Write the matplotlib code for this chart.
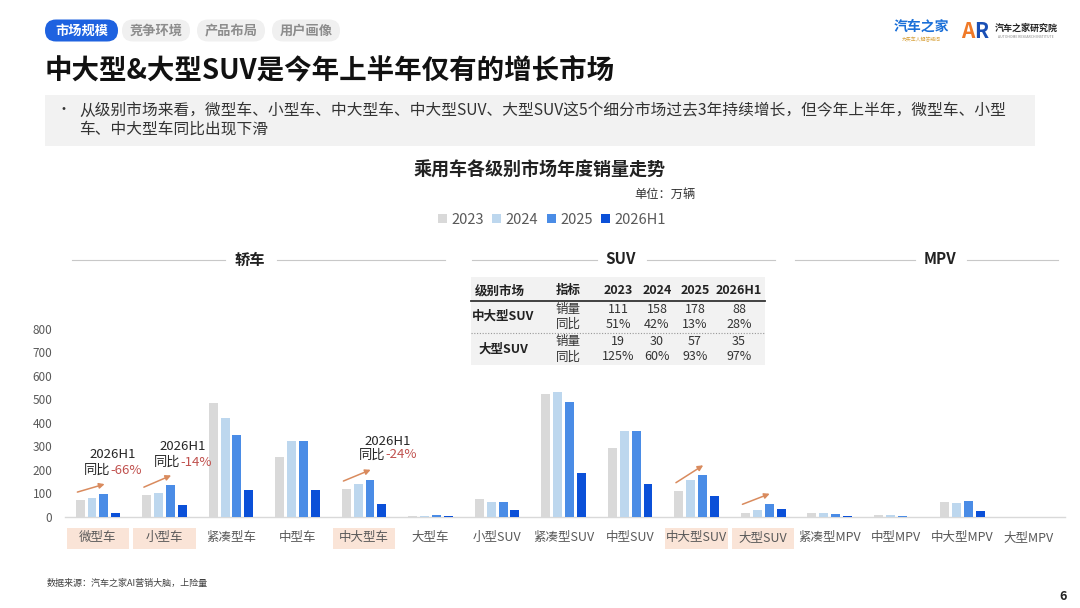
import matplotlib
matplotlib.use('Agg')
import matplotlib.pyplot as plt
from matplotlib.patches import FancyBboxPatch, Rectangle
from matplotlib.transforms import blended_transform_factory
import numpy as np

plt.rcParams['font.family'] = ['Noto Sans CJK SC', 'DejaVu Sans']
plt.rcParams['axes.unicode_minus'] = False

# 数据
categories = ['微型车', '小型车', '紧凑型车', '中型车', '中大型车', '大型车',
              '小型SUV', '紧凑型SUV', '中型SUV', '中大型SUV', '大型SUV',
              '紧凑型MPV', '中型MPV', '中大型MPV', '大型MPV']
years = ['2023', '2024', '2025', '2026H1']
sales_2023 = [71, 92, 484, 257, 118, 6, 77, 525, 295, 111, 19, 16, 8, 64, 1]
sales_2024 = [82, 101, 421, 322, 142, 5, 64, 533, 367, 158, 30, 16, 10, 61, 1]
sales_2025 = [98, 135, 348, 322, 159, 7, 64, 488, 367, 178, 57, 11, 6, 70, 1]
sales_2026h1 = [16, 50, 116, 115, 57, 3, 28, 187, 139, 88, 35, 4, 1, 27, 0]
colors = ['#D9D9D9', '#BDD7EE', '#4A8CE6', '#0B50D8']

highlight = [0, 1, 4, 9, 10]
arrow_cats = [0, 1, 4, 9, 10]
anno_cats = [0, 1, 4]
anno_yoy = ['-66%', '-14%', '-24%']
anno_pos = [(0.22, 264, 200), (0.28, 298, 231), (0.36, 323, 264)]

table_cols = ['级别市场', '指标', '2023', '2024', '2025', '2026H1']
table_groups = ['中大型SUV', '大型SUV']
table_sales = [['111', '158', '178', '88'], ['19', '30', '57', '35']]
table_yoy = [['51%', '42%', '13%', '28%'], ['125%', '60%', '93%', '97%']]

W, H = 1080, 608
fig = plt.figure(figsize=(W / 100, H / 100), dpi=100)

# 背景层，用像素坐标排版
bg = fig.add_axes([0, 0, 1, 1], zorder=0)
bg.set_xlim(0, W)
bg.set_ylim(H, 0)
bg.axis('off')

# 顶部标签页
tabs = [('市场规模', 45, 118, True), ('竞争环境', 122, 190, False),
        ('产品布局', 197, 265, False), ('用户画像', 272, 340, False)]
for name, x0, x1, active in tabs:
    fc = '#1E62E0' if active else '#F0F0F0'
    tc = 'white' if active else '#8C8C8C'
    bg.add_patch(FancyBboxPatch((x0, 19.5), x1 - x0, 22,
                                boxstyle='round,pad=0,rounding_size=11',
                                mutation_aspect=1, fc=fc, ec='none'))
    bg.text((x0 + x1) / 2, 30.5, name, ha='center', va='center', fontsize=9.5,
            color=tc, fontweight='bold')

# logo
bg.text(921, 27, '汽车之家', ha='center', va='center', fontsize=10,
        color='#1A6FD8', fontweight='bold')
bg.text(921, 40, '为买车人解答疑问', ha='center', va='center', fontsize=3.5, color='#D9A441')
bg.text(968, 31, 'A', ha='center', va='center', fontsize=15, color='#F07A28', fontweight='bold')
bg.text(981, 31, 'R', ha='center', va='center', fontsize=15, color='#1A4FB5', fontweight='bold')
bg.text(1026, 28, '汽车之家研究院', ha='center', va='center', fontsize=6.5,
        color='#222222', fontweight='bold')
bg.text(1026, 37, 'AUTOHOME RESEARCH INSTITUTE', ha='center', va='center',
        fontsize=2.5, color='#888888')

# 标题
bg.text(45, 70, '中大型&大型SUV是今年上半年仅有的增长市场', ha='left', va='center',
        fontsize=19.8, fontweight='bold', color='#111111')

# 说明框
bg.add_patch(Rectangle((45, 95), 990, 51, fc='#F2F2F2', ec='none'))
bg.text(57, 110, '•', ha='left', va='center', fontsize=10, color='#333333')
bg.text(79, 110, '从级别市场来看，微型车、小型车、中大型车、中大型SUV、大型SUV这5个细分市场过去3年持续增长，但今年上半年，微型车、小型',
        ha='left', va='center', fontsize=11.3, color='#333333')
bg.text(79, 129, '车、中大型车同比出现下滑', ha='left', va='center', fontsize=11.3, color='#333333')

# 图表标题
bg.text(540, 170, '乘用车各级别市场年度销量走势', ha='center', va='center',
        fontsize=13, fontweight='bold', color='#222222')
bg.text(665, 194, '单位：万辆', ha='center', va='center', fontsize=8.8, color='#333333')

# 分组标题
sections = [('轿车', 250, 72, 225, 277, 445), ('SUV', 621, 472, 597, 647, 775),
            ('MPV', 940, 795, 915, 967, 1058)]
for name, xc, a0, a1, b0, b1 in sections:
    bg.plot([a0, a1], [259.5, 259.5], color='#C8C8C8', lw=0.8)
    bg.plot([b0, b1], [259.5, 259.5], color='#C8C8C8', lw=0.8)
    bg.text(xc, 259.5, name, ha='center', va='center', fontsize=11,
            fontweight='bold', color='#222222')

# 表格
bg.add_patch(Rectangle((471, 277), 294, 88, fc='#F2F2F2', ec='none'))
col_x = [500, 568, 618, 657, 695, 739]
for x, c in zip(col_x, table_cols):
    bg.text(x, 290.5, c, ha='center', va='center', fontsize=9,
            fontweight='bold', color='#222222')
bg.plot([471, 765], [301, 301], color='#333333', lw=1.3)
bg.plot([471, 765], [333, 333], color='#999999', lw=0.8, ls=(0, (1, 1.5)))
row_y = [(309.5, 324.5, 316.5), (341.5, 357, 349)]
for g, (y1, y2, yg) in enumerate(row_y):
    bg.text(503, yg, table_groups[g], ha='center', va='center', fontsize=9,
            fontweight='bold', color='#222222')
    bg.text(568, y1, '销量', ha='center', va='center', fontsize=9, color='#333333')
    bg.text(568, y2, '同比', ha='center', va='center', fontsize=9, color='#333333')
    for k in range(4):
        bg.text(col_x[k + 2], y1, table_sales[g][k], ha='center', va='center',
                fontsize=9, color='#333333')
        bg.text(col_x[k + 2], y2, table_yoy[g][k], ha='center', va='center',
                fontsize=9, color='#333333')

# 底部
bg.text(47, 583, '数据来源：汽车之家AI营销大脑，上险量', ha='left', va='center',
        fontsize=6.5, color='#404040')
bg.text(1063, 597, '6', ha='center', va='center', fontsize=9, fontweight='bold', color='#222222')

# 主图
ax = fig.add_axes([65 / W, 1 - 517 / H, 1000 / W, 188 / H], zorder=2)
ax.patch.set_alpha(0)
x = np.arange(len(categories))
width = 0.135
offsets = [-0.27, -0.09, 0.09, 0.27]
series = [sales_2023, sales_2024, sales_2025, sales_2026h1]
bars = []
for s, off, c, yr in zip(series, offsets, colors, years):
    bars.append(ax.bar(x + off, s, width, color=c, label=yr, zorder=3))

ax.set_xlim(-0.496, 14.54)
ax.set_ylim(0, 800)
ax.set_yticks(range(0, 801, 100))
ax.set_xticks(x)
ax.set_xticklabels(categories, fontsize=9, color='#595959')
ax.tick_params(axis='x', length=0, pad=10)
ax.tick_params(axis='y', length=0, pad=9, labelsize=8.5, labelcolor='#595959')
for sp in ['top', 'right', 'left']:
    ax.spines[sp].set_visible(False)
ax.spines['bottom'].set_color('#D9D9D9')
ax.spines['bottom'].set_linewidth(1)

# 高亮标签背景
tr = blended_transform_factory(ax.transData, bg.transData)
for i in highlight:
    bg.add_patch(Rectangle((i - 0.47, 528), 0.94, 21, transform=tr,
                           fc='#FAE4D7', ec='none', zorder=0))

# 增长箭头
for i in arrow_cats:
    ax.annotate('', xy=(i + 0.1, sales_2025[i] + 42), xytext=(i - 0.31, sales_2023[i] + 35),
                arrowprops=dict(arrowstyle='-|>', color='#D98B5E', lw=1.1,
                                mutation_scale=8, shrinkA=0, shrinkB=0), zorder=4)

# 同比标注
for i, yoy, (dx, y1, y2) in zip(anno_cats, anno_yoy, anno_pos):
    ax.text(i + dx, y1, '2026H1', ha='center', va='center', fontsize=9.5, color='#262626')
    t = ax.text(i + dx - 0.04, y2, '同比', ha='right', va='center', fontsize=9.5, color='#262626')
    ax.annotate(yoy, xy=(1, 0.5), xycoords=t, ha='left', va='center',
                fontsize=9.5, color='#C0504D')

# 图例
fig.legend(handles=bars, labels=years, loc='center', bbox_to_anchor=(552 / W, 1 - 220 / H),
           ncol=4, frameon=False, fontsize=10.5, handlelength=0.6, handleheight=0.6,
           handletextpad=0.3, columnspacing=0.6, labelcolor='#595959')

plt.savefig('out.png', dpi=100)
plt.close()
